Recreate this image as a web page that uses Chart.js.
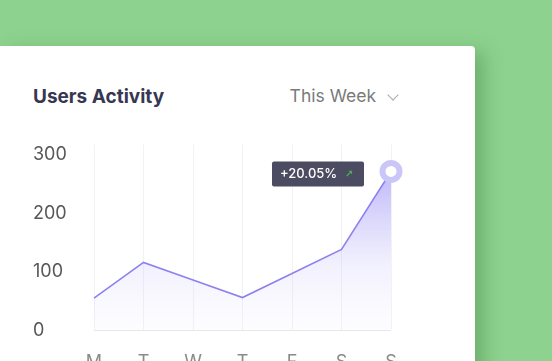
<!DOCTYPE html>
<html>
<head>
<meta charset="utf-8">
<script src="https://cdn.jsdelivr.net/npm/chart.js@4"></script>
<style>
html,body{margin:0;padding:0;width:552px;height:361px;overflow:hidden;background:#8dd28e;font-family:Inter,"Noto Sans",sans-serif}
#card{position:absolute;left:-10px;top:46px;width:485px;height:400px;background:#fff;border-top-right-radius:4px;box-shadow:14px 0 18px -6px rgba(40,110,40,0.35)}
#titulo{position:absolute;left:43px;top:39px;font-size:19px;font-weight:700;color:#373751}
#periodo{position:absolute;right:99px;top:39px;font-size:17.5px;color:#7a7a7a}
#seta{position:absolute;right:78px;top:45px;width:7px;height:7px;border-right:1.3px solid #aaa;border-bottom:1.3px solid #aaa;transform:rotate(45deg)}
#box{position:absolute;left:0;top:130px;width:475px;height:264px}
</style>
</head>
<body>
<div id="card">
<div id="titulo">Users Activity</div>
<div id="periodo">This Week</div>
<div id="seta"></div>
</div>
<div id="box"><canvas id="grafico"></canvas></div>
<script>
let dias=["M","T","W","T","F","S","S"];
let usuarios=[55,116,86,56,97,138,271];
let marcasY=[0,100,200,300];
let variacao="+20.05%";

let ultimo=usuarios.length-1;

let caixaVariacao={
id:"caixaVariacao",
afterDatasetsDraw(chart){
let p=chart.getDatasetMeta(0).data[ultimo];
let ctx=chart.ctx;
let x=p.x-119, y=p.y-10;
ctx.save();
ctx.fillStyle="#4b4b62";
ctx.beginPath();
ctx.roundRect(x,y,92,25,2);
ctx.fill();
ctx.fillStyle="#fff";
ctx.font="500 13px Inter, sans-serif";
ctx.textBaseline="middle";
ctx.fillText(variacao,x+8,y+13);
ctx.fillStyle="#4fae5a";
ctx.font="bold 10px 'DejaVu Sans', sans-serif";
ctx.fillText("↗",x+73,y+13);
ctx.restore();
}
};

new Chart(document.getElementById("grafico"),{
type:"line",
data:{
labels:dias,
datasets:[{
data:usuarios,
borderColor:"#8c82ee",
borderWidth:1.6,
tension:0,
fill:true,
backgroundColor:(c)=>{
let area=c.chart.chartArea;
if(!area) return "rgba(140,130,240,0.2)";
let g=c.chart.ctx.createLinearGradient(0,area.top+20,0,area.bottom);
g.addColorStop(0,"rgba(140,130,245,0.6)");
g.addColorStop(0.6,"rgba(160,150,245,0.14)");
g.addColorStop(1,"rgba(200,195,250,0.03)");
return g;
},
pointRadius:(c)=>c.dataIndex===ultimo?8.5:0,
pointBorderWidth:6,
pointBorderColor:"#cbc6f8",
pointBackgroundColor:"#fff",
pointHoverRadius:0
}]
},
plugins:[caixaVariacao],
options:{
responsive:true,
maintainAspectRatio:false,
animation:false,
layout:{padding:{left:33,right:84,top:13,bottom:0}},
plugins:{legend:{display:false},tooltip:{enabled:false}},
scales:{
x:{
offset:false,
border:{display:false},
grid:{color:"#f2f2f6",drawTicks:false},
ticks:{color:"#8a8a8a",font:{size:18,family:"Inter"},padding:21}
},
y:{
min:0,max:317,
border:{display:false},
afterBuildTicks:(s)=>{s.ticks=marcasY.map(v=>({value:v}));},
afterFit:(s)=>{s.width=61;},
grid:{drawTicks:false,color:(c)=>c.tick&&c.tick.value===0?"#e6e6eb":"rgba(0,0,0,0)"},
ticks:{color:"#585858",font:{size:18,family:"Inter"},crossAlign:"far",padding:0}
}
}
}
});
</script>
</body>
</html>
